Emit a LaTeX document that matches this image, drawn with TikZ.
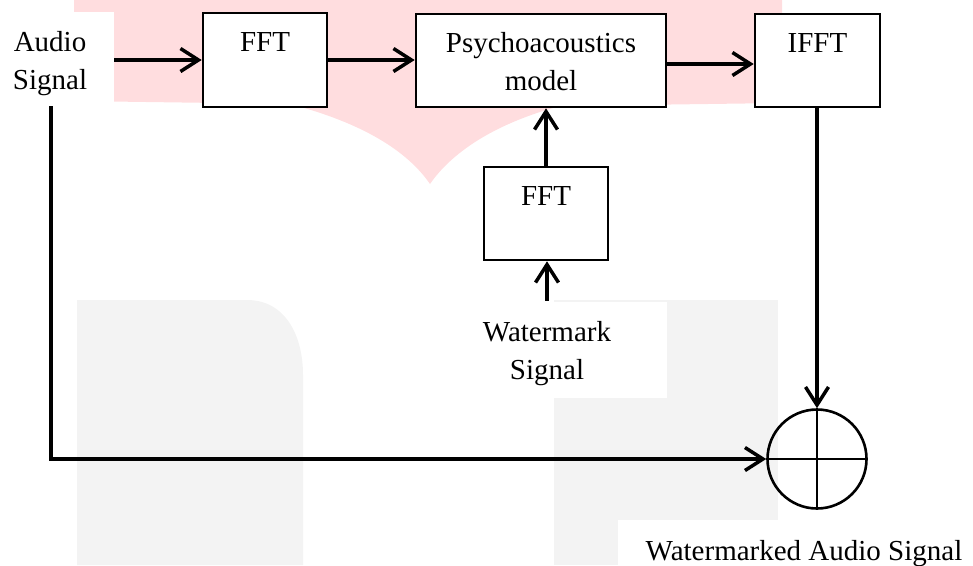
\documentclass[tikz,border=0pt]{standalone}
\usepackage{fontspec}
\setmainfont{Liberation Serif}
\usetikzlibrary{arrows.meta}
\definecolor{wmpink}{RGB}{255,221,223}
\definecolor{wmgray}{RGB}{243,243,243}
\begin{document}
\begin{tikzpicture}[x=1pt,y=-1pt,
  txt/.style={font=\fontsize{29}{38}\selectfont, inner sep=0pt},
  blk/.style={txt, draw, line width=2.6pt, fill=white, rectangle},
  conn/.style={line width=3.5pt, -{Straight Barb[length=18pt,width=23pt]}}]
\useasboundingbox (0,0) rectangle (973,565);
% faint background watermark
\fill[wmpink] (74,0) -- (782,0) -- (782,103) -- (560,106)
  .. controls (490,125) and (450,155) .. (430,184)
  .. controls (410,155) and (370,125) .. (290,104) -- (74,101) -- cycle;
\fill[wmgray] (77,565) -- (77,300) -- (247,300)
  .. controls (285,300) and (303,335) .. (303,375) -- (303,565) -- cycle;
\fill[wmgray] (554,300) rectangle (778,565);
\fill[white] (0,12) rectangle (114,105);
\fill[white] (470,302) rectangle (667,398);
\fill[white] (618,520) rectangle (973,565);
% nodes
\node[txt, minimum width=128pt, text height=37pt, text depth=55pt] (audio) at (50,60)
  {\begin{tabular}[t]{@{}c@{}}Audio\\Signal\end{tabular}};
\node[blk, minimum width=124pt, text height=38pt, text depth=56pt] (fft1) at (265,60) {FFT};
\node[blk, minimum width=250pt, text height=38pt, text depth=55pt] (psy) at (541,60.5)
  {\begin{tabular}[t]{@{}c@{}}Psychoacoustics\\model\end{tabular}};
\node[blk, minimum width=125pt, text height=38pt, text depth=55pt] (ifft) at (817.5,60.5) {IFFT};
\node[blk, minimum width=124pt, text height=38.6pt, text depth=54.4pt] (fft2) at (546,213.5) {FFT};
\node[txt, minimum width=130pt, text height=40pt, text depth=58pt] (wm) at (547,350)
  {\begin{tabular}[t]{@{}c@{}}Watermark\\Signal\end{tabular}};
\node[circle, draw, line width=2.6pt, minimum size=99pt, inner sep=0pt] (sum) at (817,459) {};
\node[txt, anchor=base] (out) at (804,560) {Watermarked Audio Signal};
\coordinate (corner) at (51,459);
% connectors
\draw[conn] (audio.east) -- (fft1.west);
\draw[conn] (fft1.east) -- (fft1.east -| psy.west);
\draw[conn] ([yshift=-3.5pt]psy.east) -- ([yshift=-3.5pt]psy.east -| ifft.west);
\draw[conn] (fft2.north) -- (fft2.north |- psy.south);
\draw[conn] (wm.north) -- (wm.north |- fft2.south);
\draw[conn] (ifft.south -| sum.north) -- (sum.north);
\draw[conn] (audio.south -| corner) -- (corner) -- (sum.west);
\draw[line width=2.6pt] (sum.north) -- (sum.south) (sum.west) -- (sum.east);
\end{tikzpicture}
\end{document}
